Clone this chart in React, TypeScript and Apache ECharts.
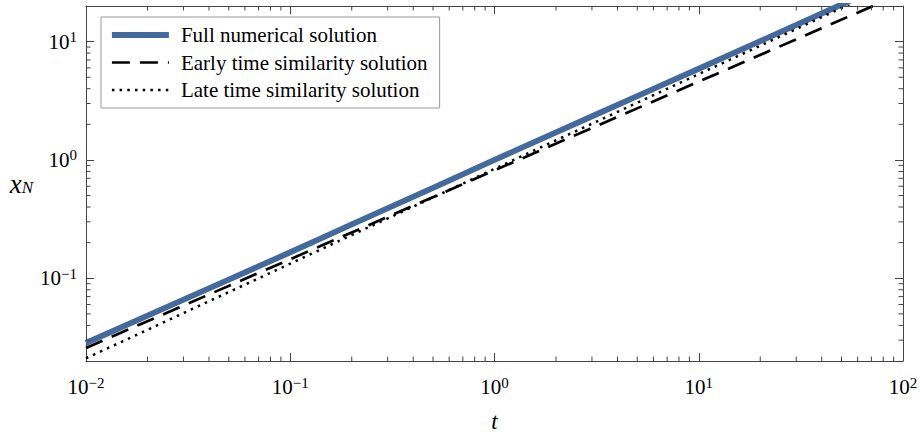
import React, { useEffect, useRef } from "react";
import * as echarts from "echarts";

// ---- data ----
const tFull = [0.01, 0.02, 0.05, 0.1, 0.2, 0.5, 1, 2, 5, 10, 20, 50, 100];
const xFull = [0.0284, 0.0484, 0.0975, 0.166, 0.285, 0.582, 1.0, 1.71, 3.46, 5.9, 10.1, 20.6, 35.2];
const tSim = [0.01, 0.1, 1, 10, 100];
const xEarly = [0.0258, 0.145, 0.817, 4.59, 25.8];
const xLate = [0.0211, 0.133, 0.841, 5.31, 33.5];
const seriesNames = [
  "Full numerical solution",
  "Early time similarity solution",
  "Late time similarity solution",
];
const xMin = 0.01;
const xMax = 100;
const yMin = 0.02;
const yMax = 20;
const xMinorTicks = [
  0.02, 0.03, 0.04, 0.05, 0.06, 0.07, 0.08, 0.09,
  0.2, 0.3, 0.4, 0.5, 0.6, 0.7, 0.8, 0.9,
  2, 3, 4, 5, 6, 7, 8, 9,
  20, 30, 40, 50, 60, 70, 80, 90,
];
const yMinorTicks = [
  0.03, 0.04, 0.05, 0.06, 0.07, 0.08, 0.09,
  0.2, 0.3, 0.4, 0.5, 0.6, 0.7, 0.8, 0.9,
  2, 3, 4, 5, 6, 7, 8, 9,
];

const FONT = "Liberation Serif";
const AXIS_COLOR = "#444";
const MINOR_LEN = 4.5;
const MAJOR_LEN = 8;

const logLabel = (v: number) => {
  const l = Math.log10(v);
  const e = Math.round(l);
  if (Math.abs(l - e) > 1e-6) return "";
  const s = e < 0 ? "\u2212" + -e : String(e);
  return `{b|10}{s|${s}}`;
};

const labelRich = {
  b: { fontFamily: FONT, fontSize: 21, color: "#000", lineHeight: 24 },
  s: { fontFamily: FONT, fontSize: 15, color: "#000", lineHeight: 14, verticalAlign: "top" },
};

const zip = (a: number[], b: number[]) => a.map((v, i) => [v, b[i]]);

export default function App() {
  const ref = useRef<HTMLDivElement>(null);
  useEffect(() => {
    document.body.style.margin = "0";
    if (!ref.current) return;
    const chart = echarts.init(ref.current, undefined, { renderer: "svg" });
    const tickStyle = { stroke: AXIS_COLOR, lineWidth: 1 };
    const baseAxis = {
      type: "log" as const,
      logBase: 10,
      axisLine: { show: true, onZero: false, lineStyle: { color: AXIS_COLOR, width: 1 } },
      axisTick: { show: true, inside: true, length: MAJOR_LEN, lineStyle: { color: AXIS_COLOR, width: 1 } },
      splitLine: { show: false },
      minorTick: { show: false },
    };
    chart.setOption({
      animation: false,
      backgroundColor: "#fff",
      textStyle: { fontFamily: FONT },
      grid: { left: 86, right: 17, top: 6, bottom: 71, containLabel: false, outerBoundsMode: "none" },
      legend: {
        orient: "vertical",
        left: 101,
        top: 17,
        itemWidth: 57,
        itemHeight: 14,
        itemGap: 3.5,
        padding: [6, 12, 6, 8],
        borderColor: "#999",
        borderWidth: 1,
        borderRadius: 0,
        backgroundColor: "#fff",
        itemStyle: { opacity: 0 },
        lineStyle: { width: "inherit", type: "inherit", color: "inherit" },
        textStyle: { fontFamily: FONT, fontSize: 21, color: "#000", lineHeight: 24, padding: [0, 0, 0, 7] },
        data: seriesNames,
      },
      xAxis: [
        {
          ...baseAxis,
          min: xMin,
          max: xMax,
          position: "bottom",
          axisLabel: { formatter: logLabel, rich: labelRich, margin: 14, fontFamily: FONT, fontSize: 21, color: "#000" },
          name: "t",
          nameLocation: "middle",
          nameGap: 50,
          nameTextStyle: { fontFamily: FONT, fontSize: 23, lineHeight: 20, fontStyle: "italic", color: "#000" },
        },
        {
          ...baseAxis,
          min: xMin,
          max: xMax,
          position: "top",
          axisLabel: { show: false },
        },
      ],
      yAxis: [
        {
          ...baseAxis,
          min: yMin,
          max: yMax,
          position: "left",
          axisLabel: { formatter: logLabel, rich: labelRich, margin: 9, fontFamily: FONT, fontSize: 21, color: "#000" },
          name: "{i|x}{n|N}",
          nameLocation: "middle",
          nameRotate: 0,
          nameGap: 53,
          nameTextStyle: {
            fontFamily: FONT,
            fontSize: 23,
            fontStyle: "italic",
            color: "#000",
            rich: {
              i: { fontFamily: FONT, fontSize: 27, fontStyle: "italic", color: "#000", lineHeight: 24 },
              n: { fontFamily: FONT, fontSize: 17, fontStyle: "italic", color: "#000", lineHeight: 14, verticalAlign: "bottom" },
            },
          },
        },
        {
          ...baseAxis,
          min: yMin,
          max: yMax,
          position: "right",
          axisLabel: { show: false },
        },
      ],
      series: [
        {
          name: seriesNames[0],
          type: "line",
          data: zip(tFull, xFull),
          symbol: "none",
          smooth: true,
          lineStyle: { color: "#44699d", width: 5.8 },
          itemStyle: { color: "#44699d" },
          z: 2,
        },
        {
          name: seriesNames[1],
          type: "line",
          data: zip(tSim, xEarly),
          symbol: "none",
          lineStyle: { color: "#000", width: 2.7, type: [18, 10] },
          itemStyle: { color: "#000" },
          z: 3,
        },
        {
          name: seriesNames[2],
          type: "line",
          data: zip(tSim, xLate),
          symbol: "none",
          lineStyle: { color: "#000", width: 2.5, type: [2.5, 5.2] },
          itemStyle: { color: "#000" },
          z: 4,
        },
        {
          type: "custom",
          silent: true,
          xAxisIndex: 0,
          yAxisIndex: 0,
          data: xMinorTicks.map((t) => [t, yMin]),
          renderItem: (_p: any, api: any) => {
            const t = api.value(0);
            const b = api.coord([t, yMin]);
            const tp = api.coord([t, yMax]);
            return {
              type: "group",
              children: [
                { type: "line", shape: { x1: b[0], y1: b[1], x2: b[0], y2: b[1] - MINOR_LEN }, style: tickStyle },
                { type: "line", shape: { x1: tp[0], y1: tp[1], x2: tp[0], y2: tp[1] + MINOR_LEN }, style: tickStyle },
              ],
            };
          },
          z: 5,
        },
        {
          type: "custom",
          silent: true,
          xAxisIndex: 0,
          yAxisIndex: 0,
          data: yMinorTicks.map((v) => [xMin, v]),
          renderItem: (_p: any, api: any) => {
            const v = api.value(1);
            const l = api.coord([xMin, v]);
            const r = api.coord([xMax, v]);
            return {
              type: "group",
              children: [
                { type: "line", shape: { x1: l[0], y1: l[1], x2: l[0] + MINOR_LEN, y2: l[1] }, style: tickStyle },
                { type: "line", shape: { x1: r[0], y1: r[1], x2: r[0] - MINOR_LEN, y2: r[1] }, style: tickStyle },
              ],
            };
          },
          z: 5,
        },
      ],
    });
    return () => chart.dispose();
  }, []);
  return <div ref={ref} style={{ width: 920, height: 432 }} />;
}
